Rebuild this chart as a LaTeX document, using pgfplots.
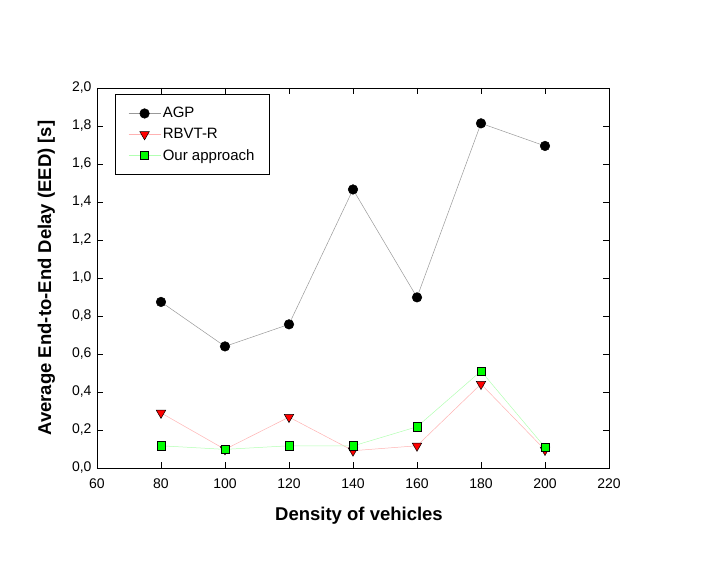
\documentclass[border=0pt]{standalone}
\usepackage{fontspec}
\setmainfont{Liberation Sans}
\usepackage{pgfplots}
\pgfplotsset{compat=1.18}
\begin{document}
\begin{tikzpicture}[x=1pt,y=1pt]
\begin{axis}[
  scale only axis,
  width=512pt, height=380pt,
  xmin=60, xmax=220, ymin=0, ymax=2.0,
  xtick={60,80,...,220},
  ytick={0,0.2,...,2.01},
  tick align=inside,
  major tick length=6pt,
  tick style={black, line width=0.6pt},
  axis line style={line width=0.8pt},
  /pgf/number format/assume math mode=true,
  ticklabel style={font=\fontsize{14}{16}\selectfont},
  xticklabel style={yshift=-7pt},
  yticklabel style={xshift=-2pt},
  y tick label style={/pgf/number format/.cd, fixed, fixed zerofill, precision=1, use comma},
  xlabel={\textbf{Density of vehicles}},
  ylabel={\textbf{Average End-to-End Delay (EED) [s]}},
  label style={font=\fontsize{18.5}{22}\selectfont},
  xlabel style={yshift=-12pt, xshift=6pt},
  ylabel style={yshift=10pt},
  legend style={at={(0.035,0.984)}, anchor=north west, draw=black, line width=0.8pt,
    font=\fontsize{15}{17}\selectfont, row sep=5pt, inner xsep=13pt, inner ysep=11pt,
    cells={anchor=west}},
  legend cell align=left,
  legend image code/.code={%
    \draw[mark repeat=2,mark phase=2] plot coordinates {(0pt,0pt) (16pt,0pt) (32pt,0pt)};},
]
\addplot[color=black!40, line width=0.5pt, mark=*, mark size=4.8pt,
  mark options={fill=black, draw=black}]
  coordinates {(80,0.874) (100,0.640) (120,0.756) (140,1.466) (160,0.898) (180,1.814) (200,1.695)};
\addlegendentry{AGP}
\addplot[color=red!30, line width=0.5pt, mark=triangle*, mark size=5.5pt,
  mark options={fill=red, draw=black, rotate=180, line width=0.5pt}]
  coordinates {(80,0.290) (100,0.098) (120,0.268) (140,0.091) (160,0.117) (180,0.442) (200,0.095)};
\addlegendentry{RBVT-R}
\addplot[color=green!30, line width=0.5pt, mark=square*, mark size=4.2pt,
  mark options={fill=green, draw=black, line width=0.6pt}]
  coordinates {(80,0.117) (100,0.098) (120,0.117) (140,0.116) (160,0.217) (180,0.510) (200,0.109)};
\addlegendentry{Our approach}
\end{axis}
\path (current axis.south west) ++(-97pt,-94pt) rectangle ++(709pt,562pt);
\end{tikzpicture}
\end{document}
